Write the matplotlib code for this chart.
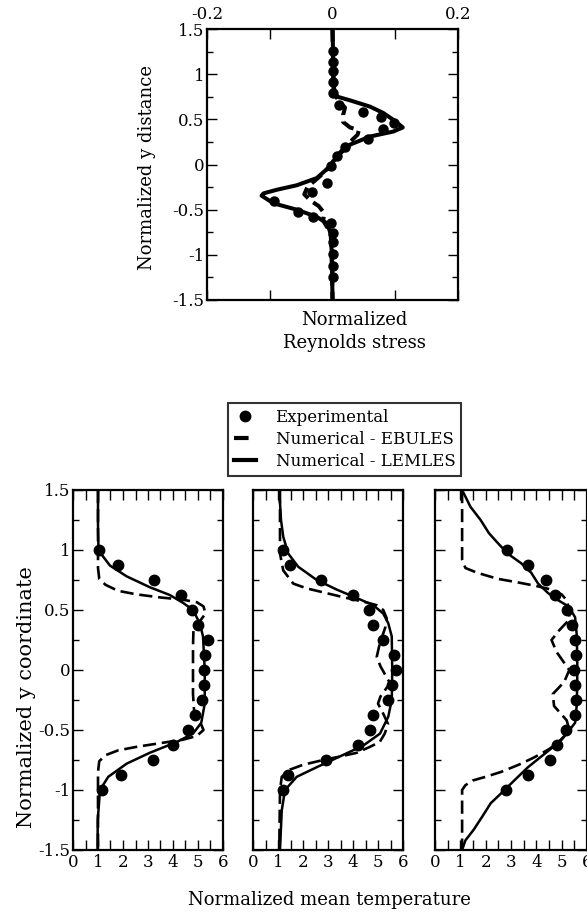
import matplotlib
matplotlib.use('Agg')
import matplotlib.pyplot as plt
from matplotlib.lines import Line2D

plt.rcParams['font.family'] = ['DejaVu Serif']
plt.rcParams['axes.unicode_minus'] = False

# ---------------- Top panel: Reynolds stress ----------------
rs_exp_x = [0.0, 0.0, 0.0, 0.0, 0.0, 0.01, 0.049, 0.077, 0.098, 0.081, 0.056, 0.02, 0.007,
            -0.002, -0.009, -0.033, -0.093, -0.055, -0.031, -0.003, 0.0, 0.0, 0.0, 0.0, 0.0]
rs_exp_y = [1.26, 1.14, 1.04, 0.91, 0.79, 0.66, 0.58, 0.53, 0.455, 0.39, 0.28, 0.19, 0.09,
            -0.02, -0.21, -0.30, -0.40, -0.525, -0.58, -0.645, -0.755, -0.86, -0.99, -1.12, -1.24]

rs_lem_x = [0.0, 0.001, 0.002, 0.003, 0.008, 0.028, 0.06, 0.081, 0.10, 0.112, 0.097, 0.06,
            0.028, 0.007, -0.004, -0.025, -0.057, -0.089, -0.110, -0.113, -0.094, -0.057,
            -0.025, -0.009, -0.003, -0.001, 0.0]
rs_lem_y = [1.5, 1.2, 0.9, 0.8, 0.75, 0.71, 0.64, 0.57, 0.48, 0.41, 0.365, 0.31,
            0.22, 0.09, -0.02, -0.15, -0.23, -0.28, -0.32, -0.345, -0.43, -0.50,
            -0.58, -0.65, -0.76, -1.0, -1.5]

rs_ebu_x = [0.0, 0.001, 0.002, 0.01, 0.02, 0.017, 0.017, 0.028, 0.042, 0.04, 0.028, 0.02,
            0.006, -0.004, -0.02, -0.04, -0.045, -0.035, -0.022, -0.013, -0.015, -0.008,
            -0.002, 0.0]
rs_ebu_y = [1.5, 1.0, 0.8, 0.7, 0.63, 0.55, 0.47, 0.41, 0.38, 0.33, 0.25, 0.19,
            0.09, -0.02, -0.13, -0.25, -0.33, -0.40, -0.46, -0.54, -0.62, -0.70,
            -0.8, -1.5]

rs_xticks = [-0.2, -0.1, 0.0, 0.1, 0.2]
rs_xticklabels = ['-0.2', '', '0', '', '0.2']
y_ticks = [1.5, 1.0, 0.5, 0.0, -0.5, -1.0, -1.5]
y_ticklabels = ['1.5', '1', '0.5', '0', '-0.5', '-1', '-1.5']

# ---------------- Bottom panels: mean temperature ----------------
exp_y = [1.0, 0.875, 0.75, 0.625, 0.5, 0.375, 0.25, 0.125, 0.0, -0.125, -0.25, -0.375,
         -0.5, -0.625, -0.75, -0.875, -1.0]
t1_exp = [1.05, 1.79, 3.25, 4.31, 4.75, 5.01, 5.41, 5.29, 5.23, 5.23, 5.17, 4.87, 4.61,
          4.01, 3.21, 1.91, 1.15]
t2_exp = [1.21, 1.48, 2.72, 4.01, 4.65, 4.81, 5.19, 5.64, 5.72, 5.55, 5.41, 4.79, 4.68,
          4.19, 2.92, 1.41, 1.19]
t3_exp = [2.83, 3.67, 4.37, 4.73, 5.2, 5.4, 5.53, 5.57, 5.47, 5.53, 5.56, 5.53, 5.16,
          4.8, 4.53, 3.67, 2.8]

t1_lem_y = [1.5, 1.2, 1.0, 0.96, 0.87, 0.78, 0.69, 0.625, 0.56, 0.5, 0.39, 0.28, 0.0,
            -0.28, -0.44, -0.53, -0.6, -0.69, -0.78, -0.89, -1.0, -1.25, -1.5]
t1_lem_x = [1.0, 1.0, 1.02, 1.15, 1.48, 2.15, 3.07, 3.87, 4.4, 4.8, 5.07, 5.2, 5.27,
            5.27, 5.13, 4.8, 4.15, 3.07, 2.15, 1.41, 1.08, 0.99, 0.98]
t1_ebu_y = [1.5, 0.85, 0.76, 0.71, 0.66, 0.63, 0.605, 0.585, 0.565, 0.53, 0.47, 0.40,
            0.34, 0.2, -0.2, -0.36, -0.44, -0.5, -0.55, -0.58, -0.61, -0.64, -0.67,
            -0.71, -0.76, -0.85, -1.5]
t1_ebu_x = [1.0, 1.0, 1.05, 1.3, 1.8, 2.55, 3.48, 4.41, 4.95, 5.22, 5.3, 5.05, 4.82,
            4.8, 4.8, 4.85, 5.1, 5.22, 4.95, 4.41, 3.48, 2.55, 1.8, 1.3, 1.05, 1.0, 1.0]

t2_lem_y = [1.5, 1.25, 1.11, 0.97, 0.86, 0.75, 0.67, 0.60, 0.54, 0.47, 0.39, 0.28, 0.0,
            -0.25, -0.39, -0.53, -0.63, -0.72, -0.81, -0.89, -1.0, -1.17, -1.5]
t2_lem_x = [1.05, 1.12, 1.21, 1.41, 1.81, 2.55, 3.35, 4.15, 4.81, 5.21, 5.41, 5.55, 5.57,
            5.55, 5.41, 5.08, 4.41, 3.48, 2.55, 1.75, 1.28, 1.15, 1.08]
t2_ebu_y = [1.5, 0.97, 0.83, 0.72, 0.68, 0.64, 0.60, 0.57, 0.54, 0.50, 0.43, 0.36, 0.22,
            0.11, 0.03, -0.11, -0.22, -0.28, -0.36, -0.45, -0.53, -0.6, -0.64, -0.69,
            -0.72, -0.75, -0.79, -0.83, -0.89, -1.0, -1.5]
t2_ebu_x = [1.08, 1.08, 1.21, 1.61, 2.15, 2.95, 3.75, 4.41, 4.95, 5.21, 5.35, 5.3, 5.07,
            4.95, 5.1, 5.48, 5.1, 5.0, 5.2, 5.4, 5.27, 5.07, 4.68, 4.15, 3.5, 2.81, 2.0,
            1.48, 1.15, 1.08, 1.05]

t3_lem_y = [1.5, 1.36, 1.25, 1.14, 1.06, 0.97, 0.89, 0.81, 0.72, 0.64, 0.58, 0.53, 0.44,
            0.28, 0.0, -0.28, -0.44, -0.53, -0.63, -0.72, -0.81, -0.92, -1.03, -1.11,
            -1.22, -1.33, -1.42, -1.5]
t3_lem_x = [1.07, 1.4, 1.8, 2.13, 2.47, 2.87, 3.4, 3.8, 4.07, 4.47, 4.87, 5.27, 5.53,
            5.6, 5.62, 5.6, 5.53, 5.2, 4.73, 4.2, 3.67, 3.13, 2.6, 2.2, 1.87, 1.53, 1.2, 1.07]
t3_ebu_y = [1.5, 0.92, 0.85, 0.81, 0.76, 0.73, 0.70, 0.67, 0.63, 0.58, 0.50, 0.42, 0.33,
            0.25, 0.15, 0.0, -0.1, -0.2, -0.3, -0.42, -0.5, -0.58, -0.66, -0.73, -0.79,
            -0.85, -0.89, -0.92, -0.96, -1.0, -1.5]
t3_ebu_x = [1.07, 1.07, 1.2, 1.67, 2.47, 3.27, 4.0, 4.6, 5.0, 5.2, 5.3, 5.3, 4.9, 4.6,
            4.8, 5.3, 5.1, 4.65, 4.7, 5.2, 5.3, 5.0, 4.5, 3.9, 3.3, 2.6, 2.0, 1.5, 1.2,
            1.07, 1.07]

t_xticks = [0, 1, 2, 3, 4, 5, 6]
t_xticklabels = ['0', '1', '2', '3', '4', '5', '6']

legend_labels = ['Experimental', 'Numerical - EBULES', 'Numerical - LEMLES']

# ---------------- Figure ----------------
W, H = 587, 914
fig = plt.figure(figsize=(W / 100, H / 100), dpi=100)


def px_axes(l, t, r, b):
    return fig.add_axes([l / W, 1 - b / H, (r - l) / W, (b - t) / H])


def style(ax):
    for s in ax.spines.values():
        s.set_linewidth(1.6)
        s.set_color('black')
    ax.tick_params(which='both', direction='in', top=True, right=True,
                   width=1.0, labelsize=12, pad=2, colors='black')
    ax.tick_params(which='major', length=7)
    ax.tick_params(which='minor', length=4.5)


# top
ax0 = px_axes(207, 29, 458, 300)
ax0.plot(rs_lem_x, rs_lem_y, color='black', lw=2.9, solid_joinstyle='round',
         solid_capstyle='round')
ax0.plot(rs_ebu_x, rs_ebu_y, color='black', lw=2.9, dashes=(3.2, 1.6))
ax0.plot(rs_exp_x, rs_exp_y, 'o', color='black', ms=6.5, ls='none')
ax0.set_xlim(-0.2, 0.2)
ax0.set_ylim(-1.5, 1.5)
ax0.set_xticks(rs_xticks)
ax0.set_xticklabels(rs_xticklabels)
ax0.set_yticks(y_ticks)
ax0.set_yticklabels(y_ticklabels)
ax0.set_yticks([1.25, 0.75, 0.25, -0.25, -0.75, -1.25], minor=True)
style(ax0)
ax0.tick_params(axis='x', which='both', labeltop=True, labelbottom=False, pad=4)

fig.text(354 / W, 1 - 320 / H, 'Normalized', ha='center', va='center', fontsize=13)
fig.text(354 / W, 1 - 343 / H, 'Reynolds stress', ha='center', va='center', fontsize=13)
fig.text(147 / W, 1 - 168 / H, 'Normalized y distance', ha='center', va='center',
         fontsize=13, rotation=90)

# bottom
panels = [(73, 223), (253, 403), (435, 587)]
exp_sets = [t1_exp, t2_exp, t3_exp]
lem_sets = [(t1_lem_x, t1_lem_y), (t2_lem_x, t2_lem_y), (t3_lem_x, t3_lem_y)]
ebu_sets = [(t1_ebu_x, t1_ebu_y), (t2_ebu_x, t2_ebu_y), (t3_ebu_x, t3_ebu_y)]

for i, (l, r) in enumerate(panels):
    ax = px_axes(l, 490, r, 850)
    lx, ly = lem_sets[i]
    ex, ey = ebu_sets[i]
    ax.plot(lx, ly, color='black', lw=1.8, solid_joinstyle='round')
    ax.plot(ex, ey, color='black', lw=1.9, dashes=(5.0, 2.2))
    ax.plot(exp_sets[i], exp_y, 'o', color='black', ms=7.5, ls='none')
    ax.set_xlim(0, 6)
    ax.set_ylim(-1.5, 1.5)
    ax.set_xticks(t_xticks)
    ax.set_xticklabels(t_xticklabels)
    ax.set_xticks([0.5, 1.5, 2.5, 3.5, 4.5, 5.5], minor=True)
    ax.set_yticks(y_ticks)
    ax.set_yticks([1.25, 0.75, 0.25, -0.25, -0.75, -1.25], minor=True)
    style(ax)
    ax.tick_params(axis='x', which='minor', length=7)
    ax.tick_params(axis='x', which='major', pad=3)
    if i == 0:
        ax.set_yticklabels(y_ticklabels)
    else:
        ax.set_yticklabels([])

fig.text(329 / W, 1 - 900 / H, 'Normalized mean temperature', ha='center', va='center',
         fontsize=13)
fig.text(27 / W, 1 - 697 / H, 'Normalized y coordinate', ha='center', va='center',
         fontsize=15, rotation=90)

handles = [Line2D([], [], marker='o', color='black', ls='none', ms=7.5),
           Line2D([], [], color='black', lw=3, dashes=(3.5, 20)),
           Line2D([], [], color='black', lw=3)]
leg = fig.legend(handles, legend_labels, loc='upper left',
                 bbox_to_anchor=(228 / W, 1 - 403 / H), fontsize=12, frameon=True,
                 fancybox=False, edgecolor='black', handlelength=1.3, handletextpad=1.2,
                 borderpad=0.35, labelspacing=0.3, borderaxespad=0)
leg.get_frame().set_linewidth(1.5)

fig.savefig('out.png', dpi=100)
